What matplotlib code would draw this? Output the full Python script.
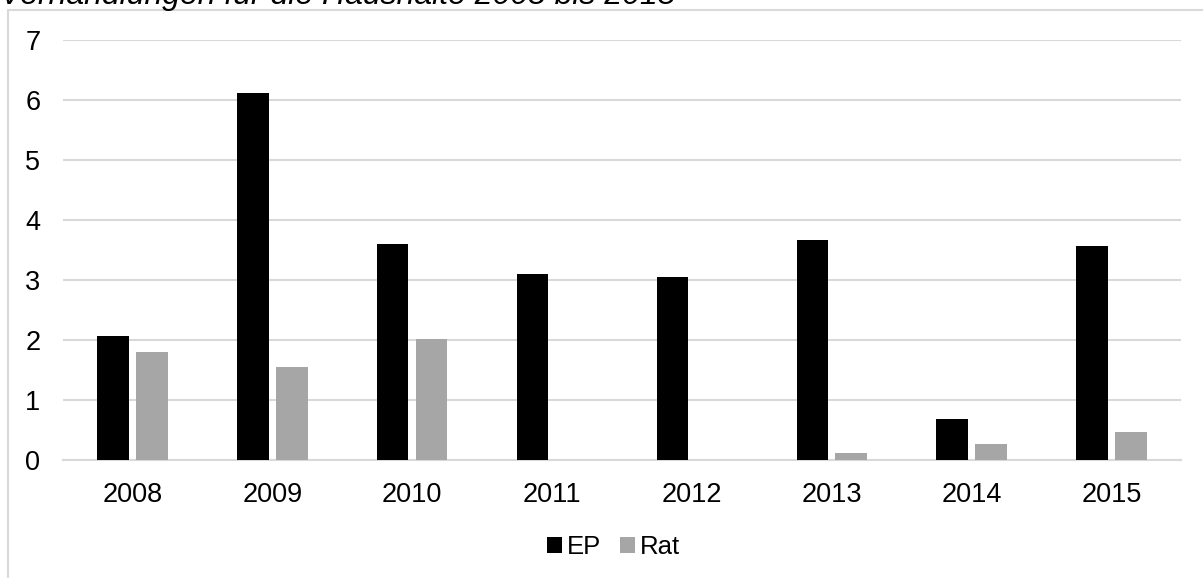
import numpy as np
import matplotlib
matplotlib.use("Agg")
import matplotlib.pyplot as plt
from matplotlib.lines import Line2D

# data
years = ["2008", "2009", "2010", "2011", "2012", "2013", "2014", "2015"]
ep_vals = [2.06, 6.12, 3.60, 3.10, 3.05, 3.67, 0.68, 3.57]
rat_vals = [1.80, 1.55, 2.01, 0.0, 0.0, 0.11, 0.27, 0.47]
title_text = "Verhandlungen für die Haushalte 2008 bis 2015"

plt.rcParams["font.family"] = ["Liberation Sans", "DejaVu Sans"]
grid_col = "#d9d9d9"

fig = plt.figure(figsize=(12.03, 5.78), dpi=100)
fig.set_facecolor("white")
ax = fig.add_axes([0.052, 0.2042, 0.930, 0.7266])

x = np.arange(len(years))
w = 0.225
off = 0.139
ax.bar(x - off, ep_vals, width=w, color="#000000", label="EP", zorder=3)
ax.bar(x + off, rat_vals, width=w, color="#a6a6a6", label="Rat", zorder=3)

ax.set_xlim(-0.5, len(years) - 0.5)
ax.set_ylim(0, 7)
ax.set_yticks(range(0, 8))
ax.set_xticks(x)
ax.set_xticklabels(years)

ax.grid(True, axis="y", color=grid_col, linewidth=1.5, zorder=0)
ax.set_axisbelow(True)
for s in ["top", "right", "left"]:
    ax.spines[s].set_visible(False)
ax.spines["bottom"].set_color(grid_col)
ax.spines["bottom"].set_linewidth(1.5)
ax.tick_params(axis="both", length=0, labelsize=19.5, colors="#000000")
ax.tick_params(axis="x", pad=16)
ax.tick_params(axis="y", pad=16)

ax.legend(loc="center", bbox_to_anchor=(0.510, 0.054), bbox_transform=fig.transFigure,
          ncol=2, frameon=False, fontsize=18.5, handlelength=0.56, handleheight=0.56,
          handletextpad=0.2, columnspacing=0.75)

# outer chart frame (only top and left edges are inside the image)
fig.add_artist(Line2D([8 / 1203, 8 / 1203], [0, 1 - 10 / 578], color=grid_col,
                      linewidth=1.5, transform=fig.transFigure))
fig.add_artist(Line2D([8 / 1203, 1], [1 - 10 / 578, 1 - 10 / 578], color=grid_col,
                      linewidth=1.5, transform=fig.transFigure))

# title, cut off by the top edge as in the reference
fig.text(0.0, 1 - 4 / 578, title_text, fontsize=23, style="italic",
         ha="left", va="baseline")

fig.savefig("out.png", dpi=100, facecolor="white")
